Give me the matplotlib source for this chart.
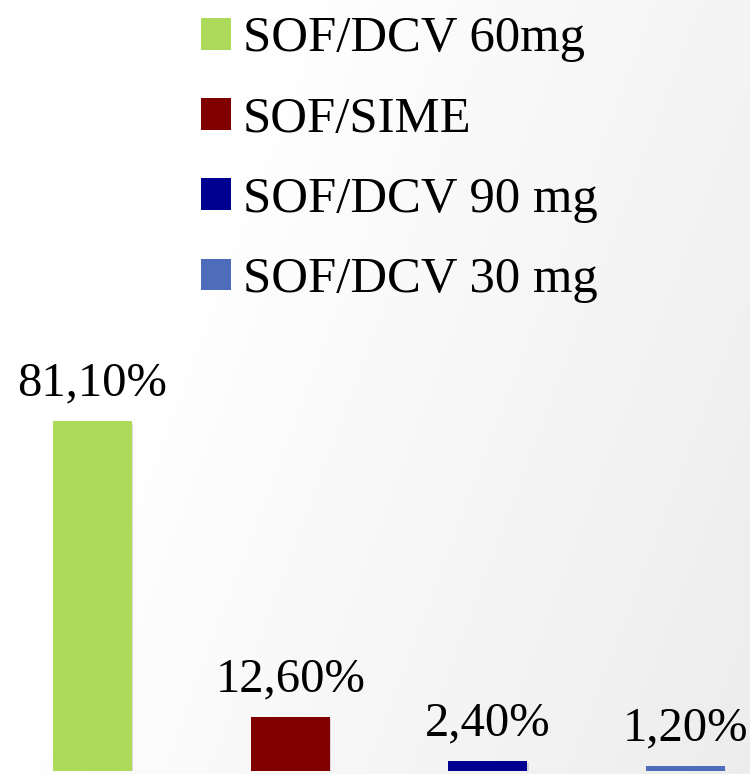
import numpy as np
import matplotlib.pyplot as plt
import matplotlib.patheffects as pe
from matplotlib.patches import Patch

# Data
labels = ["SOF/DCV 60mg", "SOF/SIME", "SOF/DCV 90 mg", "SOF/DCV 30 mg"]
values = [81.1, 12.6, 2.4, 1.2]
value_text = ["81,10%", "12,60%", "2,40%", "1,20%"]
colors = ["#ADDA5B", "#800000", "#000090", "#4E6CBA"]

plt.rcParams['font.family'] = ['Liberation Serif', 'DejaVu Serif']

fig = plt.figure(figsize=(7.5, 7.74), dpi=100)

# soft grey gradient background
bg = fig.add_axes([0, 0, 1, 1], zorder=-1)
gx, gy = np.meshgrid(np.linspace(0, 1, 300), np.linspace(0, 1, 300))
shade = 1 - 0.08 * np.clip(gx * 0.9 + gy * 0.35 - 0.35, 0, 1)
bg.imshow(np.dstack([shade] * 3), extent=[0, 1, 0, 1], aspect='auto', origin='upper')
bg.axis('off')

# Bars
ax = fig.add_axes([0, 3 / 774, 1, 771 / 774])
ax.patch.set_alpha(0)
pos = np.arange(len(values))
shadow = [pe.withSimplePatchShadow(offset=(1, -2), shadow_rgbFace='gray', alpha=0.25)]
ax.bar(pos, values, width=0.4, color=colors, path_effects=shadow)

for p, v, t in zip(pos, values, value_text):
    ax.annotate(t, (p, v), xytext=(0, 18), textcoords='offset points',
                ha='center', va='baseline', fontsize=35)

ax.set_xlim(-0.468, 3.326)
ax.set_ylim(0, 178.6)
ax.axis('off')

# Legend
handles = [Patch(facecolor=c) for c in colors]
fig.legend(handles, labels, loc='upper left', bbox_to_anchor=(201 / 750, 1 - 16 / 774),
           frameon=False, fontsize=36.5, handlelength=0.59, handleheight=0.59,
           handletextpad=0.24, labelspacing=0.667, borderpad=0, borderaxespad=0)

fig.savefig("out.png", dpi=100)
